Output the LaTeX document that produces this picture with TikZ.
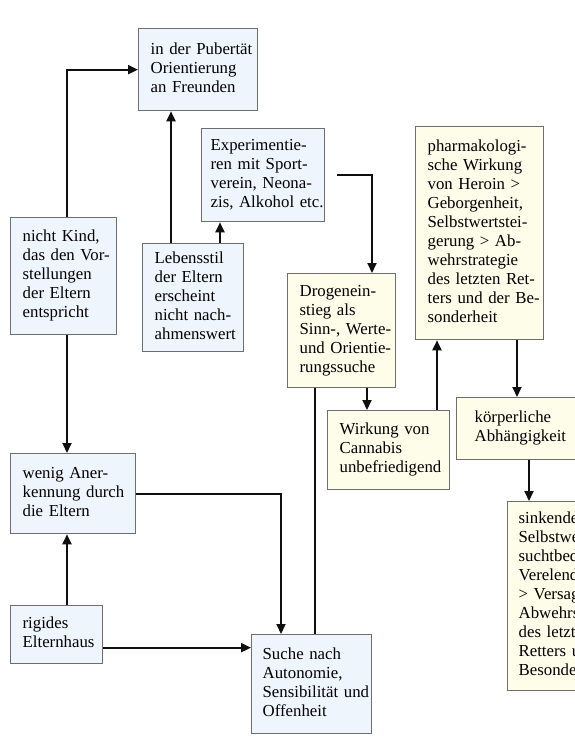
\documentclass[tikz,border=0pt]{standalone}
\usepackage{fontspec}
\setmainfont{Liberation Serif}
\usetikzlibrary{arrows.meta}
\definecolor{bluefill}{RGB}{238,245,253}
\definecolor{yellowfill}{RGB}{253,253,233}
\definecolor{frame}{RGB}{110,110,110}
\definecolor{ink}{RGB}{15,15,15}
\newcommand\boxlines[1]{\begin{tabular}{@{}l@{}}#1\end{tabular}}
\tikzset{
  card/.style={draw=frame, line width=1.3pt, anchor=north west,
    inner xsep=12pt, inner ysep=0pt, align=left,
    font=\fontsize{16.8}{19}\selectfont},
  bluecard/.style={card, fill=bluefill},
  yellowcard/.style={card, fill=yellowfill},
  arr/.style={draw=ink, line width=2pt, -{Triangle[length=10pt,width=9pt]}},
  plain/.style={draw=ink, line width=2pt},
}
\begin{document}
\begin{tikzpicture}[x=1pt,y=-1pt]
\clip (0,0) rectangle (575,737);
\fill[white] (0,0) rectangle (575,737);

% boxes
\node[bluecard, minimum width=119, minimum height=82, text width=95] (pub) at (138,28)
  {\boxlines{in der Pubertät\\Orientierung\\an Freunden}};
\node[bluecard, inner xsep=9pt, minimum width=123, minimum height=93, text width=105] (exp) at (201,128)
  {\boxlines{Experimentie-\\ren mit Sport-\\verein, Neona-\\zis, Alkohol etc.}};
\node[bluecard, minimum width=106, minimum height=117, text width=82] (kind) at (10,217)
  {\boxlines{nicht Kind,\\das den Vor-\\stellungen\\der Eltern\\entspricht}};
\node[bluecard, minimum width=101, minimum height=108, text width=77] (leb) at (142,243)
  {\boxlines{Lebensstil\\der Eltern\\erscheint\\nicht nach-\\ahmenswert}};
\node[yellowcard, minimum width=108, minimum height=114, text width=84] (drog) at (287,273)
  {\boxlines{Drogenein-\\stieg als\\Sinn-, Werte-\\und Orientie-\\rungssuche}};
\node[yellowcard, minimum width=128, minimum height=213, text width=104] (pharm) at (415,126)
  {\boxlines{pharmakologi-\\sche Wirkung\\von Heroin >\\Geborgenheit,\\Selbstwertstei-\\gerung > Ab-\\wehrstrategie\\des letzten Ret-\\ters und der Be-\\sonderheit}};
\node[yellowcard, minimum width=122, minimum height=79, text width=98] (wirk) at (327,410)
  {\boxlines{Wirkung von\\Cannabis\\unbefriedigend}};
\node[yellowcard, inner xsep=18pt, minimum width=150, minimum height=62, text width=114] (koerp) at (456,397)
  {\boxlines{körperliche\\Abhängigkeit}};
\node[yellowcard, inner xsep=11pt, minimum width=150, minimum height=189, text width=128] (sink) at (507,501)
  {\boxlines{sinkendes\\Selbstwertgefühl,\\suchtbedingte\\Verelendung\\> Versagen der\\Abwehrstrategie\\des letzten\\Retters und der\\Besonderheit}};
\node[bluecard, minimum width=125, minimum height=80, text width=101] (wenig) at (10,453)
  {\boxlines{wenig Aner-\\kennung durch\\die Eltern}};
\node[bluecard, minimum width=92, minimum height=58, text width=68] (rig) at (10,605)
  {\boxlines{rigides\\Elternhaus}};
\node[bluecard, inner xsep=11pt, minimum width=120, minimum height=99, text width=98] (such) at (251,634)
  {\boxlines{Suche nach\\Autonomie,\\Sensibilität und\\Offenheit}};

% connectors
\draw[arr] ([xshift=57]kind.north west) |- (pub.west);
\draw[arr] ([xshift=29]leb.north west) -- ([xshift=29]leb.north west |- pub.south);
\draw[arr] ([xshift=78]leb.north west) -- ([xshift=78]leb.north west |- exp.south);
\draw[arr] ([xshift=12]exp.east) -| ([xshift=85]drog.north west);
\draw[arr] ([xshift=80]drog.south west) -- ([xshift=80]drog.south west |- wirk.north);
\draw[plain] ([xshift=28]drog.south west) -- ([xshift=28]drog.south west |- such.north);
\draw[arr] ([xshift=110]wirk.north west) -- ([xshift=110]wirk.north west |- pharm.south);
\draw[arr] ([xshift=102]pharm.south west) -- ([xshift=102]pharm.south west |- koerp.north);
\draw[arr] ([xshift=73]koerp.south west) -- ([xshift=73]koerp.south west |- sink.north);
\draw[arr] ([xshift=57]kind.south west) -- ([xshift=57]kind.south west |- wenig.north);
\draw[arr] ([xshift=57]rig.north west) -- ([xshift=57]rig.north west |- wenig.south);
\draw[arr] (wenig.east) -| ([xshift=30]such.north west);
\draw[arr] ([yshift=-13]rig.east) -- ([yshift=-13]rig.east -| such.west);
\end{tikzpicture}
\end{document}
